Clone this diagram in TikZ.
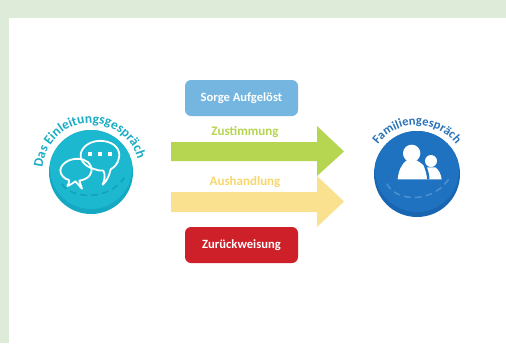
\documentclass[tikz,border=0pt]{standalone}
\usepackage{fontspec}
\setmainfont{Carlito}
\usetikzlibrary{decorations.text}
\definecolor{pagegreen}{HTML}{DDEBD8}
\definecolor{boxblue}{HTML}{74B6E0}
\definecolor{boxred}{HTML}{CE2028}
\definecolor{arrgreen}{HTML}{B6D550}
\definecolor{arryellow}{HTML}{F9E18F}
\definecolor{lblgreen}{HTML}{B6D550}
\definecolor{lblyellow}{HTML}{F7D66E}
\definecolor{teal1}{HTML}{1CB8D0}
\definecolor{teal2}{HTML}{14A8C2}
\definecolor{teal3}{HTML}{12A0BA}
\definecolor{blue1}{HTML}{1F72C0}
\definecolor{blue2}{HTML}{1866B2}
\definecolor{blue3}{HTML}{4A90D2}
\definecolor{arctealtxt}{HTML}{1AACC6}
\definecolor{arcbluetxt}{HTML}{2A72B8}
\tikzset{
  x=1pt,y=-1pt,
  statebox/.style={rounded corners=6pt,minimum width=113pt,minimum height=36pt,inner sep=0pt,text=white,font=\fontsize{12.6}{15}\selectfont\bfseries},
  lbl/.style={inner sep=0pt,font=\fontsize{13}{15}\selectfont\bfseries},
  bubble/.style={draw=white,line width=1.8pt,line join=round,fill=none},
  rimdash/.style={line width=1.5pt,line cap=round,dash pattern=on 6pt off 5pt},
}
\begin{document}
\begin{tikzpicture}
\useasboundingbox (0,0) rectangle (506,343);
\fill[pagegreen] (0,0) rectangle (506,343);
\fill[white] (9,18) rectangle (506,343);

% boxes
\node[statebox,fill=boxblue] (sorge) at (241.5,98) {Sorge Aufgelöst};
\node[statebox,fill=boxred] (zurueck) at (241.5,245) {Zurückweisung};

% arrows
\fill[arrgreen] (171,142) -- (317,142) -- (317,126) -- (344,151.5) -- (317,176) -- (317,161) -- (171,161) -- cycle;
\fill[arryellow] (171,192) -- (317,192) -- (317,176) -- (344,201.5) -- (317,227) -- (317,212) -- (171,212) -- cycle;
\node[lbl,text=lblgreen] (zust) at (245,132.5) {Zustimmung};
\node[lbl,text=lblyellow] (aush) at (245,182) {Aushandlung};

% left disc
\fill[teal2] (91,172) circle (42);
\begin{scope}
\clip (91,172) circle (42);
\fill[teal1] (91,168) circle (41);
\end{scope}
\draw[teal3,rimdash] (62,184) .. controls (72,200) and (110,200) .. (124,178);

% speech bubbles (coordinates of the 3x crop)
\begin{scope}[shift={(20,90)},scale=1/3]
\draw[bubble] (222,237) .. controls (190,228) and (176,205) .. (184,185)
  .. controls (194,160) and (225,150) .. (250,153)
  .. controls (285,157) and (302,180) .. (297,203)
  .. controls (294,222) and (282,232) .. (272,238)
  .. controls (268,255) and (262,272) .. (248,284)
  .. controls (255,268) and (256,252) .. (250,242)
  .. controls (240,243) and (230,240) .. (222,237);
\draw[bubble] (190,209) .. controls (160,200) and (125,215) .. (121,240)
  .. controls (120,255) and (135,268) .. (147,270)
  .. controls (148,277) and (146,283) .. (142,288)
  .. controls (150,286) and (160,278) .. (166,274)
  .. controls (172,280) and (180,290) .. (186,296)
  .. controls (184,288) and (180,280) .. (178,272)
  .. controls (205,268) and (222,250) .. (212,228)
  .. controls (208,218) and (200,212) .. (190,209);
\fill[white] (203,185) rectangle (215,198);
\fill[white] (234,185) rectangle (246,198);
\fill[white] (264,185) rectangle (276,198);
\end{scope}

% right disc
\fill[blue2] (417,174) circle (43);
\begin{scope}
\clip (417,174) circle (43);
\fill[blue1] (417,170) circle (42);
\end{scope}
\draw[blue3,rimdash] (387,184) .. controls (397,203) and (435,203) .. (450,177);

% people (coordinates of the 3x crop)
\begin{scope}[shift={(350,90)},scale=1/3]
\fill[white] (185,190) circle (26);
\fill[white] (143,268) .. controls (146,240) and (155,222) .. (170,211)
  -- (200,211) .. controls (215,220) and (225,228) .. (230,240)
  .. controls (234,250) and (235,260) .. (236,268) -- cycle;
\fill[white] (243,213) circle (18);
\fill[white] (236,268) .. controls (235,252) and (232,240) .. (230,232)
  -- (256,232) .. controls (268,240) and (273,255) .. (275,268) -- cycle;
\draw[blue1,line width=2.4pt] (224,225) .. controls (230,238) and (234,252) .. (235,268);
\end{scope}

% curved titles
\path[decorate,decoration={text along path,text align=center,
  text={|\fontsize{13.5}{16}\selectfont\bfseries\color{arctealtxt}|Das Einleitungsgespräch}}]
  (42.5,176) arc[start angle=175,end angle=355,radius=48.5];
\path[decorate,decoration={text along path,text align=center,
  text={|\fontsize{12.5}{15}\selectfont\bfseries\color{arcbluetxt}|Familiengespräch}}]
  (368,174) arc[start angle=180,end angle=360,radius=49];
\end{tikzpicture}
\end{document}
